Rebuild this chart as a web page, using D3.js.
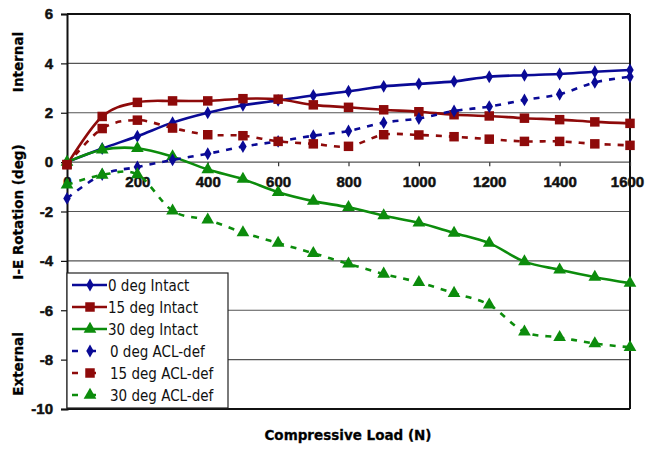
<!DOCTYPE html>
<meta charset="utf-8">
<script src="https://d3js.org/d3.v7.min.js"></script>
<style>
  body { margin: 0; background: #fff; }
  text.tick-lbl { font-family: "Liberation Sans", Arial, sans-serif; font-weight: bold; font-size: 15px; stroke: #111; stroke-width: 0.5px; }
  text.title { font-family: "DejaVu Sans", "Liberation Sans", sans-serif; font-weight: bold; font-size: 13.5px; stroke: #111; stroke-width: 0.3px; }
  text.legend { font-family: "Liberation Sans Narrow", "DejaVu Sans Condensed", sans-serif; font-size: 15px; }
</style>
<div id="chart"></div>
<script>
// load values (N)
var loads = [0, 100, 200, 300, 400, 500, 600, 700, 800, 900, 1000, 1100, 1200, 1300, 1400, 1500, 1600];

// I-E rotation (deg)
var intact0  = [0, 0.55, 1.05, 1.6, 2.0, 2.3, 2.5, 2.7, 2.87, 3.07, 3.17, 3.27, 3.46, 3.52, 3.57, 3.66, 3.73];
var intact15 = [-0.1, 1.85, 2.42, 2.48, 2.48, 2.57, 2.55, 2.32, 2.22, 2.12, 2.04, 1.92, 1.87, 1.78, 1.72, 1.63, 1.57];
var intact30 = [0, 0.5, 0.56, 0.22, -0.3, -0.69, -1.22, -1.58, -1.83, -2.17, -2.46, -2.87, -3.28, -4.03, -4.36, -4.66, -4.9];
var acl0  = [-1.47, -0.5, -0.2, 0.09, 0.34, 0.63, 0.84, 1.07, 1.26, 1.6, 1.77, 2.07, 2.25, 2.52, 2.75, 3.23, 3.46];
var acl15 = [-0.1, 1.36, 1.7, 1.38, 1.11, 1.07, 0.84, 0.74, 0.64, 1.11, 1.1, 1.03, 0.93, 0.84, 0.84, 0.74, 0.68];
var acl30 = [-0.92, -0.52, -0.5, -1.97, -2.34, -2.85, -3.28, -3.69, -4.12, -4.53, -4.87, -5.31, -5.78, -6.87, -7.1, -7.35, -7.5];

var seriesNames = ["0 deg Intact", "15 deg Intact", "30 deg Intact", "0 deg ACL-def", "15 deg ACL-def", "30 deg ACL-def"];
var xTicks = [0, 200, 400, 600, 800, 1000, 1200, 1400, 1600];
var yTicks = [-10, -8, -6, -4, -2, 0, 2, 4, 6];

var blue = "#0a0a96", red = "#8e0a0a", green = "#0c8c0c";
var series = [
  {name: seriesNames[0], vals: intact0,  color: blue,  sym: d3.symbolDiamond,  size: 48, dash: null},
  {name: seriesNames[1], vals: intact15, color: red,   sym: d3.symbolSquare,   size: 90, dash: null},
  {name: seriesNames[2], vals: intact30, color: green, sym: d3.symbolTriangle, size: 70, dash: null},
  {name: seriesNames[3], vals: acl0,  color: blue,  sym: d3.symbolDiamond,  size: 48, dash: "6,7"},
  {name: seriesNames[4], vals: acl15, color: red,   sym: d3.symbolSquare,   size: 90, dash: "6,7"},
  {name: seriesNames[5], vals: acl30, color: green, sym: d3.symbolTriangle, size: 70, dash: "6,7"}
];

var W = 645, H = 451;
var svg = d3.select("#chart").append("svg").attr("width", W).attr("height", H);

var x = d3.scaleLinear().domain([0, 1600]).range([67, 630]);
var y = d3.scaleLinear().domain([-10, 6]).range([409, 14]);

// horizontal grid
svg.append("g").selectAll("line").data(yTicks).enter().append("line")
  .attr("x1", x(0)).attr("x2", x(1600))
  .attr("y1", function(d) { return y(d); }).attr("y2", function(d) { return y(d); })
  .attr("stroke", function(d) { return (d === 6 || d === -10) ? "#111" : "#555"; })
  .attr("stroke-width", function(d) { return (d === 6 || d === -10) ? 2 : 1.2; });

// right border
svg.append("line").attr("x1", x(1600)).attr("x2", x(1600)).attr("y1", y(6)).attr("y2", y(-10))
  .attr("stroke", "#111").attr("stroke-width", 2);

// y axis
var yAxis = svg.append("g").attr("transform", "translate(" + x(0) + ",0)")
  .call(d3.axisLeft(y).tickValues(yTicks).tickSize(6).tickPadding(8).tickFormat(d3.format("d")));
yAxis.select(".domain").attr("stroke", "#111").attr("stroke-width", 2);
yAxis.selectAll(".tick line").attr("stroke", "#111").attr("stroke-width", 1.2);
yAxis.selectAll(".tick text").attr("class", "tick-lbl").attr("fill", "#111").text(function(d) { return d < 0 ? "-" + Math.abs(d) : d; });

// x axis on zero line
var xAxis = svg.append("g").attr("transform", "translate(0," + y(0) + ")")
  .call(d3.axisBottom(x).tickValues(xTicks).tickSize(4).tickPadding(10).tickFormat(d3.format("d")));
xAxis.select(".domain").remove();
xAxis.selectAll(".tick line").attr("stroke", "#333").attr("stroke-width", 1.2);
xAxis.selectAll(".tick text").attr("class", "tick-lbl").attr("fill", "#111")
  .attr("dx", function(d) { return d === 1600 ? -3 : 0; });

// lines
var line = d3.line()
  .x(function(d, i) { return x(loads[i]); })
  .y(function(d) { return y(d); })
  .curve(d3.curveCardinal.tension(0));

series.forEach(function(s) {
  svg.append("path").datum(s.vals)
    .attr("fill", "none").attr("stroke", s.color).attr("stroke-width", 2.6)
    .attr("stroke-dasharray", s.dash)
    .attr("d", line);
  svg.append("g").selectAll("path").data(s.vals).enter().append("path")
    .attr("transform", function(d, i) { return "translate(" + x(loads[i]) + "," + y(d) + ")"; })
    .attr("d", d3.symbol().type(s.sym).size(s.size))
    .attr("fill", s.color);
});

// titles
svg.append("text").attr("class", "title").attr("text-anchor", "middle")
  .attr("transform", "translate(23,212) rotate(-90)").text("I-E Rotation (deg)");
svg.append("text").attr("class", "title").attr("text-anchor", "middle")
  .attr("transform", "translate(23,62) rotate(-90)").text("Internal");
svg.append("text").attr("class", "title").attr("text-anchor", "middle")
  .attr("transform", "translate(23,364) rotate(-90)").text("External");
svg.append("text").attr("class", "title").attr("text-anchor", "middle")
  .attr("x", 348).attr("y", 440).text("Compressive Load (N)");

// legend
var lg = svg.append("g");
lg.append("rect").attr("x", 67).attr("y", 273).attr("width", 161).attr("height", 135)
  .attr("fill", "#fff").attr("stroke", "#222").attr("stroke-width", 1.2);
series.forEach(function(s, i) {
  var cy = 285 + i * 22;
  lg.append("line").attr("x1", 72).attr("x2", s.dash ? 96 : 107).attr("y1", cy).attr("y2", cy)
    .attr("stroke", s.color).attr("stroke-width", 2.6)
    .attr("stroke-dasharray", s.dash ? "6,12" : null);
  lg.append("path").attr("transform", "translate(90," + cy + ")")
    .attr("d", d3.symbol().type(s.sym).size(s.size)).attr("fill", s.color);
  lg.append("text").attr("class", "legend").attr("x", s.dash ? 110 : 108).attr("y", cy + 5.5)
    .attr("fill", "#111").text(s.name);
});
</script>
